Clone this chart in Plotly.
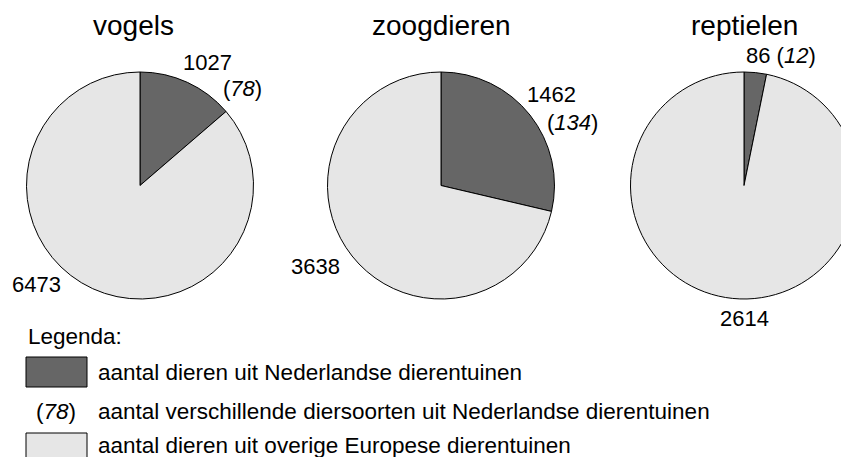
import plotly.graph_objects as go

# ---- data ----
groups = ["vogels", "zoogdieren", "reptielen"]
nl_animals = [1027, 1462, 86]          # aantal dieren uit Nederlandse dierentuinen
nl_species = [78, 134, 12]             # aantal verschillende diersoorten (NL)
other_animals = [6473, 3638, 2614]     # aantal dieren uit overige Europese dierentuinen
slice_names = ["Nederlandse dierentuinen", "overige Europese dierentuinen"]
legend_title = "Legenda:"
legend_texts = [
    "aantal dieren uit Nederlandse dierentuinen",
    "aantal verschillende diersoorten uit Nederlandse dierentuinen",
    "aantal dieren uit overige Europese dierentuinen",
]

# ---- style / layout ----
W, H = 857, 457
OFF = 8  # page body margin offset
DARK = "#666666"
LIGHT = "#e6e6e6"
FONT = "Liberation Sans, Arial, sans-serif"
LABEL_SIZE = 22
LEGEND_SIZE = 22.5
TITLE_SIZE = 28


def px(x):
    return (x - OFF) / W


def py(y):
    return 1 - (y - OFF) / H


# pie geometry in screen pixels: left, right, top, bottom
pie_boxes = [(26, 254, 72, 299), (327, 555, 72, 299), (630, 858, 72, 299)]

fig = go.Figure()
for i, g in enumerate(groups):
    l, r, t, b = pie_boxes[i]
    fig.add_trace(go.Pie(
        labels=slice_names,
        values=[nl_animals[i], other_animals[i]],
        sort=False,
        direction="clockwise",
        rotation=0,
        textinfo="none",
        hoverinfo="label+value",
        marker=dict(colors=[DARK, LIGHT], line=dict(color="black", width=1)),
        domain=dict(x=[px(l), px(r)], y=[py(b), py(t)]),
        showlegend=False,
    ))

ann = []
title_pos = [(134, 26), (441, 26), (744, 26)]
for i, g in enumerate(groups):
    x, y = title_pos[i]
    ann.append(dict(text=g, x=px(x), y=py(y), font=dict(size=TITLE_SIZE)))

# value labels
ann.append(dict(text=str(nl_animals[0]), x=px(207), y=py(63)))
ann.append(dict(text="(<i>%d</i>)" % nl_species[0], x=px(242), y=py(88)))
ann.append(dict(text=str(other_animals[0]), x=px(36), y=py(284)))
ann.append(dict(text=str(nl_animals[1]), x=px(551), y=py(94)))
ann.append(dict(text="(<i>%d</i>)" % nl_species[1], x=px(572), y=py(122)))
ann.append(dict(text=str(other_animals[1]), x=px(315), y=py(266)))
ann.append(dict(text="%d (<i>%d</i>)" % (nl_animals[2], nl_species[2]), x=px(781), y=py(56)))
ann.append(dict(text=str(other_animals[2]), x=px(744), y=py(318)))

# legend
lf = dict(size=LEGEND_SIZE)
ann.append(dict(text=legend_title, x=px(26), y=py(336), xanchor="left", font=lf))
ann.append(dict(text=legend_texts[0], x=px(96), y=py(372), xanchor="left", font=lf))
ann.append(dict(text="(<i>%d</i>)" % nl_species[0], x=px(56), y=py(411), font=lf))
ann.append(dict(text=legend_texts[1], x=px(96), y=py(411), xanchor="left", font=lf))
ann.append(dict(text=legend_texts[2], x=px(96), y=py(445), xanchor="left", font=lf))

for a in ann:
    a.setdefault("xref", "paper")
    a.setdefault("yref", "paper")
    a.setdefault("showarrow", False)
    a.setdefault("xanchor", "center")
    a.setdefault("yanchor", "middle")
    a.setdefault("font", dict(size=LABEL_SIZE))

shapes = [
    dict(type="rect", xref="paper", yref="paper", x0=px(26), x1=px(87), y0=py(387), y1=py(357),
         fillcolor=DARK, line=dict(color="black", width=1)),
    dict(type="rect", xref="paper", yref="paper", x0=px(26), x1=px(87), y0=py(462), y1=py(433),
         fillcolor=LIGHT, line=dict(color="black", width=1)),
]

fig.update_layout(
    width=W, height=H,
    margin=dict(l=0, r=0, t=0, b=0),
    paper_bgcolor="white", plot_bgcolor="white",
    font=dict(family=FONT, color="black", size=LABEL_SIZE),
    annotations=ann,
    shapes=shapes,
)

fig.write_html("out.html")
